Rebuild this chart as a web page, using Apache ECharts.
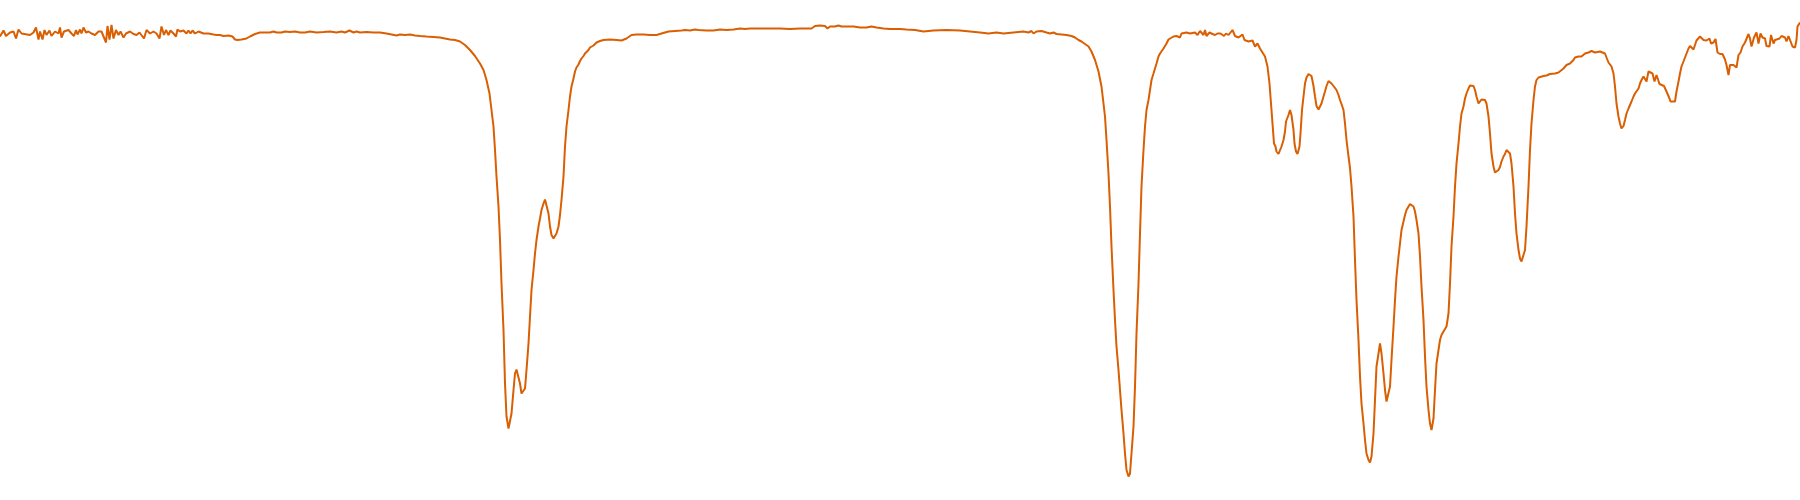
<!DOCTYPE html>
<html>
<head>
<meta charset="utf-8">
<script src="https://cdn.jsdelivr.net/npm/echarts@6/dist/echarts.min.js"></script>
<style>html,body{margin:0;padding:0;background:#fff}#chart{width:1800px;height:500px}</style>
</head>
<body>
<div id="chart"></div>
<script>
// IR spectrum: wavenumber (cm^-1) and transmittance (%)
const wavenumber = [
4000,3993,3988,3980,3973,3968,3963,3957,3940,3933,3928,3923,3920,3915,3911,3907,3901,3897,3890,3883,3880,3877,3872,3863,3857,3852,3848,3845,3840,3837,3833,3828,3823,3817,3810,3807,3803,3797,3788,3785,3781,3777,3773,3768,3763,3759,3753,3748,3740,3733,3727,3721,3717,3712,3707,3700,
3693,3687,3681,3677,3672,3668,3663,3659,3653,3648,3645,3640,3633,3627,3623,3619,3615,3610,3603,3593,3583,3573,3567,3560,3553,3543,3535,3530,3525,3517,3507,3500,3490,3480,3470,3460,3453,3447,3437,3430,3420,3410,3400,
3390,3380,3367,3353,3340,3327,3317,3310,3301,3293,3287,3280,3267,3253,3240,3227,3217,3207,3200,3190,3180,3170,3160,3147,3133,3120,3110,3100,
3090,3080,3070,3060,3050,3040,3033,3027,3021,3017,3013,3010,3007,3003,3000,2997,2993,2990,2987,2983,2980,2977,2973,2970,2967,2963,2960,2957,2953,2950,2947,2943,2940,2937,2933,2930,2927,2923,2920,2917,2913,2910,2907,2903,2900,2897,2893,2890,2887,2883,2880,2877,2873,2870,2867,2863,2860,2857,2853,2850,2847,2843,2840,2837,2833,2830,2827,2823,2820,2817,2813,2807,2800,
2793,2780,2767,2757,2747,2737,2727,2713,2700,2687,2677,2663,2650,2637,2630,2620,2610,2603,2587,2573,2560,2547,2533,2520,2510,2500,
2480,2460,2440,2420,2400,2377,2370,2360,2350,2345,2340,2330,2323,2317,2307,2293,2280,2267,2257,2247,2233,2220,2200,
2187,2170,2153,2133,2107,2080,2060,2040,2023,2007,1993,1973,1953,1943,1937,1933,1927,1917,1907,1900,
1893,1887,1877,1867,1857,1850,1843,1837,1830,1823,1817,1810,1803,1797,1790,1787,1783,1780,1777,1773,1770,1767,1763,1760,1757,1753,1750,1747,1743,1740,1737,1733,1730,1727,1723,1720,1717,1713,1710,1707,1703,1700,1697,1693,1690,1687,1683,1680,1673,1667,1663,1660,1653,1647,1643,1640,1637,1633,1627,1620,1617,1610,1605,1600,
1597,1593,1590,1587,1581,1575,1570,1565,1561,1559,1555,1552,1548,1543,1539,1535,1530,1523,1519,1515,1511,1507,1503,1500,1495,1490,1485,1480,1475,1470,1465,1461,1458,1455,1452,1449,1447,1443,1440,1437,1433,1430,1428,1423,1420,1417,1413,1411,1408,1405,1401,1399,1396,1393,1390,1387,1383,1380,1377,1373,1370,1367,1363,1360,1357,1353,1350,1347,1343,1340,1337,1333,1327,1323,1320,1317,1313,1310,1307,1303,1300,
1297,1293,1290,1287,1283,1280,1277,1273,1270,1267,1263,1260,1257,1253,1250,1247,1243,1240,1237,1233,1230,1227,1223,1220,1217,1213,1210,1207,1203,1200,1197,1193,1190,1187,1183,1180,1177,1173,1170,1167,1163,1160,1157,1153,1150,1147,1143,1140,1137,1133,1130,1127,1123,1120,1117,1113,1110,1107,1103,1100,1097,1093,1090,1087,1083,1080,1077,1073,1070,1067,1063,1060,1057,1053,1050,1047,1043,1040,1037,1033,1030,1027,1023,1020,1017,1013,1010,1007,1003,1000,
997,993,990,987,983,980,977,973,970,967,963,960,957,953,950,947,943,940,937,933,930,927,923,920,913,907,903,900,897,890,883,880,873,867,860,857,853,850,843,840,837,830,823,817,810,807,800,797,790,787,783,780,777,773,770,767,763,760,757,753,750,747,743,740,737,733,730,727,723,720,717,713,710,707,703,700,
695,691,687,681,677,672,667,661,659,655,650,647,643,640,637,633,630,627,623,620,617,613,610,607,603,600,597,593,587,581,578,573,569,565,560,555,550,547,543,540,533,530,527,523,519,515,510,507,503,500,497,492,487,483,479,475,470,467,461,458,453,450,447,441,437,433,430,427,423,419,415,410,407,405,400
];
const transmittance = [
92.7,93.9,92.8,93.5,93.7,92.3,94.1,93.3,93.0,93.5,94.5,92.1,93.7,92.1,94.0,93.0,93.9,92.8,93.7,93.3,94.5,92.5,93.7,94.0,93.3,92.8,94.0,93.1,94.1,93.3,94.5,93.5,93.7,93.3,93.0,92.7,93.7,93.7,91.5,94.8,92.1,95.0,92.3,94.0,93.0,93.7,92.5,93.3,93.7,93.2,93.0,93.5,93.9,92.3,94.0,93.3,
93.7,93.3,92.3,94.7,93.0,94.0,93.0,93.9,93.3,92.7,94.1,93.7,93.9,93.3,93.9,93.3,93.9,93.3,93.7,93.3,93.3,93.1,93.0,93.0,92.8,92.9,92.7,92.1,92.0,92.1,92.3,92.7,93.2,93.5,93.5,93.5,93.7,93.5,93.5,93.7,93.6,93.7,93.5,
93.5,93.7,93.5,93.6,93.7,93.5,93.7,93.5,93.9,93.5,93.7,93.5,93.6,93.5,93.5,93.3,93.1,92.9,93.1,93.0,93.1,92.9,92.8,92.7,92.6,92.5,92.3,92.1,
92.0,91.7,91.0,90.0,88.8,87.3,86.0,84.0,81.3,78.0,74.7,70.0,64.7,58.7,52.0,43.3,34.0,23.3,16.7,14.3,14.0,17.3,22.0,25.3,26.1,25.7,23.3,21.3,21.0,22.3,26.0,31.3,36.7,42.0,46.0,49.3,52.0,54.7,56.3,58.0,59.3,60.1,59.8,57.3,54.7,53.0,52.3,52.5,53.3,54.7,57.0,60.0,64.7,70.7,74.7,78.0,80.7,82.7,84.3,85.7,86.5,87.1,87.8,88.3,88.8,89.3,89.7,90.0,90.5,90.7,90.9,91.5,91.8,
92.0,92.1,92.0,91.9,92.3,93.0,93.1,93.1,93.0,93.0,93.3,93.7,93.8,93.9,94.0,93.9,94.1,94.0,93.9,93.9,94.1,94.0,94.1,94.3,94.2,94.3,
94.3,94.3,94.3,94.2,94.3,94.3,94.8,94.9,94.8,94.3,94.7,94.7,94.9,94.7,94.7,94.7,94.5,94.5,94.7,94.5,94.3,94.2,94.2,
94.1,94.0,93.7,93.9,94.0,93.9,93.7,93.5,93.3,93.5,93.3,93.5,93.7,93.5,93.8,93.3,93.7,93.8,93.5,93.3,
93.5,93.2,93.1,93.0,92.8,92.5,92.0,91.7,91.2,90.7,89.7,88.0,85.7,82.7,76.7,72.0,65.3,58.7,50.7,42.0,36.0,30.7,26.0,22.0,18.0,13.3,9.3,6.0,4.7,5.3,9.3,14.7,22.7,33.3,43.3,53.3,62.7,70.0,74.7,78.0,80.0,82.0,84.0,85.3,86.3,87.3,88.7,89.3,90.3,91.3,92.1,92.3,92.7,92.8,93.1,92.5,93.3,93.7,93.5,93.3,93.5,93.5,93.0,93.8,
93.9,93.0,94.0,92.8,93.5,93.2,93.0,93.3,92.9,93.3,93.7,92.8,93.3,93.0,93.3,94.0,92.8,92.5,92.7,93.1,92.0,92.1,91.7,92.0,91.9,90.7,91.3,90.3,89.5,88.7,86.7,83.3,79.3,75.3,71.3,70.7,69.7,69.2,69.0,70.7,72.0,73.7,75.7,77.0,78.0,77.0,74.0,71.3,69.7,69.2,70.7,73.3,78.0,80.7,83.3,84.5,85.2,85.5,84.8,82.8,80.7,78.8,78.1,78.3,79.3,80.7,81.7,82.8,83.8,83.7,83.3,82.8,82.0,81.0,80.0,79.2,78.0,75.3,72.0,68.7,66.4,
62.7,56.7,48.0,40.0,32.0,24.7,19.3,15.3,12.0,9.3,8.0,7.5,8.7,13.3,20.0,26.7,29.3,31.3,29.3,25.3,22.0,19.7,19.7,22.7,28.0,34.7,40.0,44.7,48.7,51.3,54.0,55.7,57.0,58.0,58.7,59.2,59.2,58.7,57.7,56.0,53.3,48.7,42.7,36.0,28.7,22.7,18.0,15.3,14.0,16.3,22.0,27.3,30.0,32.0,33.0,33.7,34.0,34.7,37.3,43.3,50.7,56.7,62.7,67.3,71.3,74.7,77.3,78.7,80.3,81.3,82.3,82.9,82.9,82.8,82.0,80.7,79.3,79.7,80.1,80.3,80.0,79.3,76.7,73.3,69.3,66.7,65.5,65.3,66.0,66.6,
67.7,68.7,69.2,70.0,70.1,69.3,67.3,62.7,57.3,53.3,50.0,48.3,47.7,47.8,50.0,54.7,62.7,70.0,75.3,80.0,82.7,84.0,84.5,84.7,84.8,84.9,85.0,85.2,84.9,85.3,85.5,85.9,86.3,87.0,87.3,87.7,88.0,88.5,88.7,89.0,88.7,89.3,89.5,89.8,89.5,89.1,89.7,89.8,89.3,88.5,87.5,87.7,86.7,85.3,82.7,79.3,76.7,75.3,74.3,74.8,76.0,77.3,78.3,79.0,79.7,80.7,81.3,81.1,82.3,83.3,84.0,84.7,84.7,83.7,85.7,85.8,
85.3,83.7,85.0,83.2,83.0,82.8,81.7,80.3,79.7,80.0,79.7,81.7,83.7,85.3,86.7,87.7,88.5,88.3,90.3,90.8,90.7,90.1,91.0,91.9,92.3,92.7,92.3,92.0,91.9,92.3,91.3,91.5,92.2,89.5,89.2,89.2,88.1,87.0,85.0,87.0,87.0,87.1,86.5,89.0,89.5,90.7,91.5,91.5,93.2,92.3,90.7,92.5,93.5,91.3,93.3,92.5,92.3,90.8,90.7,93.0,91.3,92.0,92.3,92.3,92.8,93.2,92.5,91.7,92.8,92.7,90.7,90.5,92.0,94.7,95.5
];

const points = wavenumber.map((w, i) => [w, transmittance[i]]);

const chart = echarts.init(document.getElementById('chart'), null, {renderer: 'canvas'});
chart.setOption({
  animation: false,
  backgroundColor: '#ffffff',
  grid: {left: 0, right: 0, top: 0, bottom: 0},
  xAxis: {type: 'value', min: 400, max: 4000, inverse: true, show: false},
  yAxis: {type: 'value', min: 0, max: 100, show: false},
  series: [{
    type: 'line',
    data: points,
    showSymbol: false,
    symbol: 'none',
    lineStyle: {color: '#d95f02', width: 2},
    clip: false
  }]
});
</script>
</body>
</html>
